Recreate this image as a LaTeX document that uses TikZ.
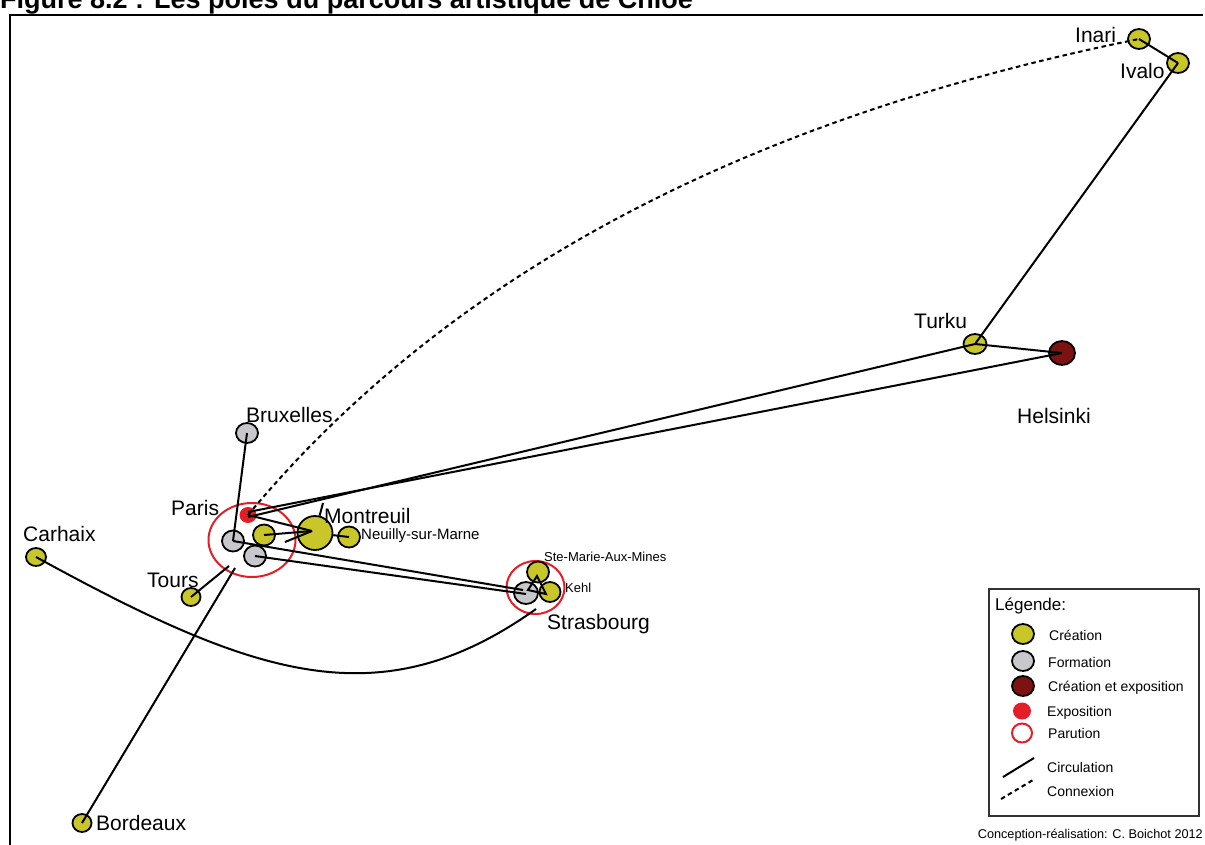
\documentclass[tikz,border=0pt]{standalone}
\usepackage{fontspec}
\setmainfont{Liberation Sans}
\usetikzlibrary{shapes.geometric}
\definecolor{cre}{RGB}{200,198,40}
\definecolor{frm}{RGB}{200,200,204}
\definecolor{dred}{RGB}{125,18,18}
\definecolor{expo}{RGB}{226,30,40}
\begin{document}
\begin{tikzpicture}[x=1pt,y=-1pt,
  dot/.style={ellipse,draw=black,line width=1.8pt,inner sep=0pt},
  crea/.style={dot,fill=cre},
  form/.style={dot,fill=frm},
  creexp/.style={dot,fill=dred},
  expdot/.style={ellipse,fill=expo,inner sep=0pt},
  ring/.style={ellipse,draw=expo,line width=2pt,inner sep=0pt},
  sz/.style 2 args={minimum width=#1pt,minimum height=#2pt},
  lbl/.style={anchor=base west,inner sep=0pt,font=\fontsize{21}{25}\selectfont},
  slbl/.style={anchor=base west,inner sep=0pt,font=\fontsize{15}{18}\selectfont},
  tlbl/.style={anchor=base west,inner sep=0pt,font=\fontsize{13}{16}\selectfont},
  leg/.style={anchor=base west,inner sep=0pt,font=\fontsize{14}{17}\selectfont},
  route/.style={line width=2pt},
  conn/.style={line width=2pt,dash pattern=on 4.5pt off 3.5pt},
]
\useasboundingbox (0,0) rectangle (1205,844);
% title (cut by the page edge)
\node[anchor=base west,inner sep=0pt,font=\bfseries\fontsize{27}{30}\selectfont] (title) at (0,8) {Figure 8.2 : Les pôles du parcours artistique de Chloé};
% frame
\draw[line width=2pt] (10,850) -- (10,15) -- (1203,15);

% rings (parution)
\node[ring,sz={87}{74}] (parisring) at (252,540) {};
\node[ring,sz={58}{53}] (strasring) at (535.5,587.5) {};

% places
\node[crea,sz={22}{20}] (inari) at (1139,39) {};
\node[crea,sz={22}{20}] (ivalo) at (1178,63) {};
\node[crea,sz={23}{20}] (turku) at (975,344) {};
\node[creexp,sz={26}{24}] (helsinki) at (1062,353) {};
\node[form,sz={22}{20}] (bruxelles) at (247,433) {};
\node[form,sz={22}{21}] (parisf1) at (233,541) {};
\node[form,sz={22}{21}] (parisf2) at (255,556) {};
\node[crea,sz={22}{21}] (parisc) at (264,535) {};
\node[expdot,sz={17}{16}] (parisexpo) at (248,515) {};
\node[crea,sz={35}{34}] (montreuil) at (315,533) {};
\node[crea,sz={22}{21}] (neuilly) at (349,537) {};
\node[crea,sz={19}{18}] (tours) at (191,597) {};
\node[crea,sz={20}{18}] (carhaix) at (36,557) {};
\node[crea,sz={19}{18}] (bordeaux) at (82,823) {};
\node[form,sz={24}{22}] (strasbourg) at (526,593) {};
\node[crea,sz={22}{21}] (stemarie) at (538,572) {};
\node[crea,sz={21}{20}] (kehl) at (550,592) {};

% free ends
\coordinate (stub) at (323,503);
\coordinate (mfree) at (285,542);
\coordinate (toursend) at (229,566);
\coordinate (bordend) at (235,568);
\coordinate (strasend) at (536,609);
\coordinate (sA) at (523,590);
\coordinate (sB) at (526,594);
\coordinate (tS) at (528,590);
\coordinate (tM) at (537,576);
\coordinate (tK) at (546,594);

% connexion
\draw[conn] (parisexpo.center) .. controls (446,277) and (739,120) .. (inari.center);
% circulations
\draw[route] (inari.center) -- (ivalo.center);
\draw[route] (ivalo.center) -- (turku.center);
\draw[route] (turku.center) -- (helsinki.center);
\draw[route] ([yshift=-2pt]parisexpo.center) -- (turku.center);
\draw[route] ([yshift=3pt]parisexpo.center) -- (helsinki.center);
\draw[route] (montreuil) -- (stub);
\draw[route] (bruxelles.center) -- (parisf1.center);
\draw[route] (parisexpo.center) -- ([shift={(-3,-2)}]montreuil.center);
\draw[route] (parisc.center) -- ([shift={(-3,-2)}]montreuil.center);
\draw[route] (mfree) -- ([shift={(-3,-2)}]montreuil.center);
\draw[route] (montreuil) -- (neuilly.center);
\draw[route] (parisf1.center) -- (sA);
\draw[route] (parisf2.center) -- (sB);
\draw[route] (tS) -- (tM) -- (tK) -- cycle;
\draw[route] (tours.center) -- (toursend);
\draw[route] (bordeaux.center) -- (bordend);
\draw[route] (carhaix.center) .. controls (255,677) and (380,720) .. (strasend);

% labels
\node[lbl] (linari) at (1075,42) {Inari};
\node[lbl] (livalo) at (1120,78) {Ivalo};
\node[lbl] (lturku) at (914,328) {Turku};
\node[lbl] (lhelsinki) at (1017,423) {Helsinki};
\node[lbl] (lbruxelles) at (246,422) {Bruxelles};
\node[lbl] (lparis) at (171,515) {Paris};
\node[lbl] (lmontreuil) at (324,523) {Montreuil};
\node[slbl] (lneuilly) at (361,539) {Neuilly-sur-Marne};
\node[lbl] (ltours) at (147,587) {Tours};
\node[lbl] (lcarhaix) at (23,541) {Carhaix};
\node[lbl] (lbordeaux) at (96,830) {Bordeaux};
\node[tlbl] (lstemarie) at (544,561) {Ste-Marie-Aux-Mines};
\node[tlbl] (lkehl) at (565,592) {Kehl};
\node[lbl] (lstrasbourg) at (547,629) {Strasbourg};

% legend
\node[draw=black!80,line width=1.2pt,inner sep=0pt,minimum width=210pt,minimum height=227pt] (legbox) at (1094,702.5) {};
\node[anchor=base west,inner sep=0pt,font=\fontsize{17}{20}\selectfont] (legtitle) at (995,610) {Légende:};
\node[crea,sz={22}{20}] (lgcrea) at (1023,634) {};
\node[leg] (lgcreat) at (1049,640) {Création};
\node[form,sz={22}{20}] (lgform) at (1023,661) {};
\node[leg] (lgformt) at (1048,667) {Formation};
\node[creexp,sz={22}{20}] (lgce) at (1023,686) {};
\node[leg] (lgcet) at (1048,691) {Création et exposition};
\node[expdot,sz={18}{17}] (lgexpo) at (1022,711) {};
\node[leg] (lgexpot) at (1047,716) {Exposition};
\node[ring,sz={20}{19}] (lgring) at (1022,733) {};
\node[leg] (lgringt) at (1048,738) {Parution};
\coordinate (lgc1) at (1003,777);
\coordinate (lgc2) at (1034,758);
\draw[route] (lgc1) -- (lgc2);
\node[leg] (lgcirc) at (1047,772) {Circulation};
\coordinate (lgd1) at (1001,799);
\coordinate (lgd2) at (1033,780);
\draw[conn] (lgd1) -- (lgd2);
\node[leg] (lgconn) at (1047,796) {Connexion};

% credit
\node[anchor=base east,inner sep=0pt,font=\fontsize{12.7}{15}\selectfont] (credit) at (1203,838) {Conception-réalisation: C. Boichot 2012};
\end{tikzpicture}
\end{document}
